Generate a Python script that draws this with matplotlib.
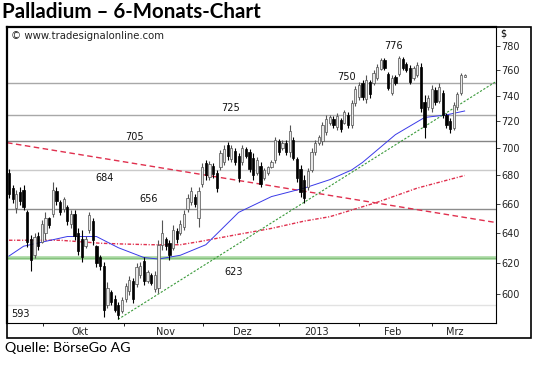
import numpy as np
import matplotlib
matplotlib.use('Agg')
import matplotlib.pyplot as plt
from matplotlib.patches import Rectangle

plt.rcParams['font.family'] = ['DejaVu Sans']

bar_open = [682, 671, 657, 668, 670, 654, 636, 625, 638, 634,
            640, 650, 653, 669, 661, 656, 658, 646, 653, 640,
            636, 631, 642, 648, 631, 624, 618, 593, 601, 597,
            593, 589, 597, 602, 608, 606, 612, 621, 608, 612,
            603, 604, 632, 636, 633, 630, 641, 640, 644, 656,
            661, 665, 650, 674, 689, 679, 687, 682, 686, 690,
            702, 692, 698, 694, 690, 699, 697, 693, 682, 687,
            678, 682, 686, 691, 705, 700, 704, 697, 706, 692,
            685, 677, 672, 684, 697, 704, 705, 712, 719, 722,
            716, 721, 719, 725, 717, 734, 739, 750, 737, 751,
            750, 754, 761, 768, 757, 742, 755, 757, 769, 765,
            762, 754, 756, 763, 735, 731, 730, 744, 736, 742,
            725, 720, 715, 731, 742, 755]
bar_high = [685, 673.5, 670, 672, 673.5, 655.5, 638.5, 640, 640.5, 648.5,
            654, 651, 675.5, 671.5, 662.5, 665, 659, 655.5, 655.5, 643,
            642, 638, 654, 650, 632, 625, 620.5, 607.5, 602.5, 599.5,
            595, 598, 607, 611.5, 610, 620, 620.5, 624, 615.5, 613.5,
            614.5, 635, 648.5, 637, 635, 645.5, 643.5, 648.5, 655.5, 666.5,
            671.5, 666.5, 672, 689, 691, 690.5, 689, 684, 698.5, 702,
            704.5, 702.5, 700, 696.5, 702.5, 701, 699.5, 696.5, 693.5, 689.5,
            685.5, 687, 691, 708.5, 707, 706, 706, 717.5, 708.5, 693.5,
            687.5, 680.5, 685.5, 700, 706, 710, 719.5, 725, 725, 724,
            726.5, 722.5, 729, 727, 736.5, 747.5, 750.5, 752.5, 756, 752.5,
            760, 765, 770, 770, 758.5, 756, 756, 771.5, 770.5, 766.5,
            764, 763.5, 766.5, 766, 740.5, 740.5, 748.5, 746.5, 750, 744.5,
            726.5, 722.5, 735, 743, 758, 757]
bar_low = [664, 660.5, 653.5, 659, 655.5, 630.5, 615, 623, 628.5, 633,
           635, 643, 651, 659, 652, 654.5, 645.5, 643, 635, 625,
           620.5, 630, 640, 632, 617, 615.5, 585.5, 591, 593, 588.5,
           584.5, 588, 595, 599.5, 594.5, 604.5, 610, 605.5, 607, 605.5,
           601, 600.5, 628.5, 628.5, 622, 628.5, 633, 638.5, 642, 654.5,
           659, 657.5, 644, 672, 677, 676.5, 678.5, 668.5, 684, 687.5,
           691, 689.5, 687.5, 675, 687.5, 692.5, 682.5, 677, 680.5, 671.5,
           677, 680.5, 685.5, 689, 695, 698.5, 695, 693.5, 691, 675.5,
           665, 660.5, 670, 682.5, 695, 702.5, 702.5, 710, 717.5, 715,
           713.5, 712, 718, 715, 715, 732, 736.5, 736.5, 734, 738,
           748.5, 752.5, 760, 760, 744.5, 740.5, 748.5, 755.5, 760, 758.5,
           749, 752.5, 754.5, 727, 707.5, 729, 727, 732.5, 734, 722.5,
           715, 711, 713.5, 729, 740.5, 754.5]
bar_close = [667, 663, 667, 662, 658, 634, 622, 637, 631, 646,
             650, 645, 670, 662, 654, 663, 648, 653, 638, 628,
             624, 636, 652, 635, 620, 618, 590, 604, 595, 590,
             587, 596, 605, 609, 597, 617, 618, 608, 614, 607,
             612, 632, 640, 631, 625, 642, 636, 646, 653, 664,
             669, 660, 669, 686, 680, 688, 681, 671, 696, 699,
             694, 700, 690, 678, 700, 694, 685, 680, 691, 674,
             684, 686, 690, 706, 697, 704, 697, 713, 693, 678,
             668, 664, 683, 697, 704, 708, 717, 722, 723, 717,
             724, 714, 727, 717, 734, 745, 748, 739, 752, 741,
             758, 763, 768, 762, 746, 754, 750, 770, 762, 760,
             751, 762, 764, 730, 716, 738, 745, 735, 747, 725,
             717, 714, 733, 741, 756, 756]

ma_blue_idx = [0, 4, 16, 24, 30, 37, 41, 47, 54, 63, 72, 81, 88, 94, 97, 106, 114, 120, 125]
ma_blue_val = [624.5, 631, 637.5, 637.5, 630, 623.5, 622.5, 625, 632, 654, 665, 671, 677,
               684, 689.5, 710, 723, 725, 728]
ma_red_idx = [0, 14, 25, 31, 39, 47, 52, 63, 72, 81, 88, 101, 112, 125]
ma_red_val = [635, 635, 633, 632.5, 632, 632, 634, 639, 643, 648, 651, 661, 671, 680]

# Trendlinien
down_trend_x = [-0.55, 133.6]
down_trend_p = [704, 647]
up_trend_x = [29.9, 133.6]
up_trend_p = [584, 751]

# horizontale Marken
levels = [750, 725, 705, 684, 656, 593]
level_colors = ['#a8a8a8', '#a8a8a8', '#858585', '#cacaca', '#8c8c8c', '#e2e2e2']
support_level = 623

yticks = [600, 620, 640, 660, 680, 700, 720, 740, 760, 780]
month_ticks = [9.2, 31.6, 53.3, 74.0, 96.0, 116.1]
month_label_pos = [19.5, 43.0, 64.0, 84.5, 105.3, 122.4]
month_labels = ['Okt', 'Nov', 'Dez', '2013', 'Feb', 'Mrz']

fig = plt.figure(figsize=(5.4, 3.66), dpi=100)
W, H = 540.0, 366.0
ax = fig.add_axes([7 / W, (H - 323) / H, (496 - 7) / W, (323 - 27) / H])
ax.set_yscale('log')
ax.set_ylim(581.8, 795.6)
ax.set_xlim(-0.55, 133.6)

for lv, col in zip(levels, level_colors):
    ax.axhline(lv, color=col, lw=1.0, zorder=1)
ax.axhline(support_level, color='#a9d9a2', lw=2.6, zorder=1)
ax.axhline(support_level, color='#86c27f', lw=0.8, zorder=1)

ax.plot(down_trend_x, down_trend_p, color='#e0304e', lw=1.0, dashes=(4, 2.5), zorder=2)
ax.plot(ma_red_idx, ma_red_val, color='#e0304e', lw=1.0, dashes=(2.5, 1.2, 0.8, 1.2), zorder=2)
ax.plot(ma_blue_idx, ma_blue_val, color='#3a3ae8', lw=0.7, zorder=2)
ax.plot(up_trend_x, up_trend_p, color='#3a9a3a', lw=0.8, dashes=(2, 1.5), zorder=2)

x = np.arange(len(bar_close))
o = np.array(bar_open, dtype=float)
c = np.array(bar_close, dtype=float)
down = c < o
wick_cols = np.where(down, 'black', '#555555')
ax.vlines(x, bar_low, bar_high, colors=wick_cols, lw=0.8, zorder=3)
body_lo = np.minimum(o, c)
body_h = np.abs(c - o)
face = np.where(down, 'black', '#e8e8e8')
edge = np.where(down, 'black', '#505050')
ax.bar(x, body_h, bottom=body_lo, width=0.62, color=face, edgecolor=edge, lw=0.5, zorder=4)

# Kursmarken
marks = [('776', 105.6, 780), ('750', 92.5, 754.4), ('725', 60.9, 730.3), ('705', 34.4, 708.5),
         ('684', 26.3, 678.3), ('656', 38.4, 663.3), ('623', 61.7, 614.2), ('593', 3.0, 587.4)]
for txt, mx, my in marks:
    ax.text(mx, my, txt, fontsize=7, ha='center', va='center', color='#111111', zorder=5)

ax.text(0.008, 0.985, '\u00a9 www.tradesignalonline.com', transform=ax.transAxes,
        fontsize=7.3, ha='left', va='top', color='#222222')

ax.yaxis.tick_right()
ax.set_yticks(yticks)
ax.set_yticklabels([str(v) for v in yticks])
ax.yaxis.set_minor_locator(matplotlib.ticker.NullLocator())
ax.tick_params(axis='y', which='major', direction='out', length=3, width=0.6, pad=1,
               labelsize=7, colors='#222222')

ax.set_xticks(month_ticks)
ax.set_xticklabels([])
ax.set_xticks(month_label_pos, minor=True)
ax.set_xticklabels(month_labels, minor=True)
ax.tick_params(axis='x', which='major', direction='out', length=2, width=0.6)
ax.tick_params(axis='x', which='minor', length=0, pad=3, labelsize=7, colors='#222222')

for side in ['left', 'top']:
    ax.spines[side].set_linewidth(1.6)
for side in ['right', 'bottom']:
    ax.spines[side].set_linewidth(0.8)

# Rahmen um Chart inkl. Achsen
fig.patches.append(Rectangle((7 / W, (H - 338) / H), (531 - 7) / W, (338 - 27) / H,
                             transform=fig.transFigure, fill=False, lw=1.2, ec='black'))
fig.text(500 / W, 1 - 33 / H, '$', fontsize=7, ha='left', va='center')

fig.text(2 / W, 1 - 12 / H, 'Palladium \u2013 6-Monats-Chart', fontsize=14.8,
         fontweight='bold', family=['Lato', 'DejaVu Sans'], ha='left', va='center')
fig.text(5 / W, 1 - 348 / H, 'Quelle: B\u00f6rseGo AG', fontsize=10.2,
         family=['Lato', 'DejaVu Sans'], ha='left', va='center')

fig.savefig('out.png', dpi=100)
